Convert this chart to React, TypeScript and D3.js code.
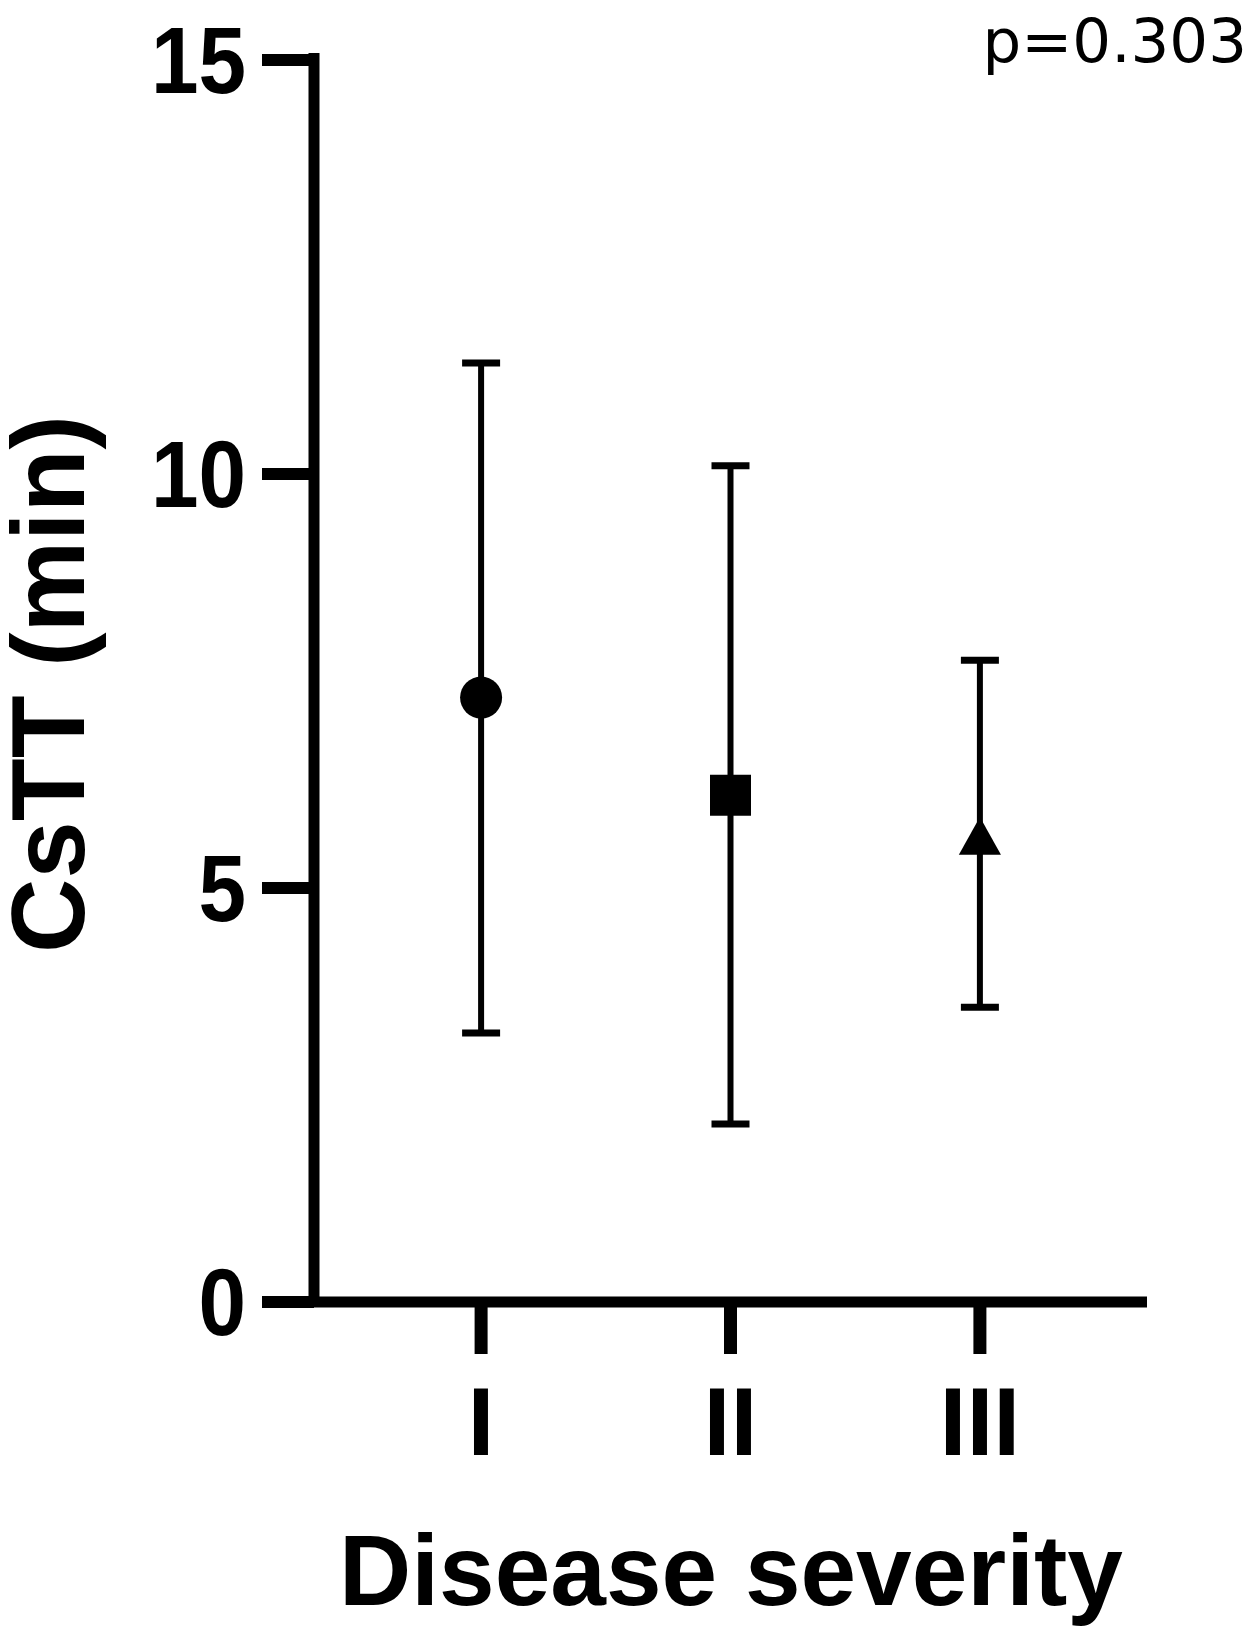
import React from 'react';
import * as d3 from 'd3';

const categories = ['I', 'II', 'III'];
const means = [7.3, 6.12, 5.63];
const upper = [11.34, 10.1, 7.75];
const lower = [3.25, 2.15, 3.56];
const yTicks = [0, 5, 10, 15];
const pLabel = 'p=0.303';

// triangle centred on its box, as the plotting program draws it
const boxTriangle = {
    draw(ctx: any, size: number) {
        const w = Math.sqrt(size * 2 / 0.9);
        const h = w * 0.9;
        ctx.moveTo(0, -h / 2);
        ctx.lineTo(w / 2, h / 2);
        ctx.lineTo(-w / 2, h / 2);
        ctx.closePath();
    }
};

const symbols = [
    d3.symbol().type(d3.symbolCircle).size(Math.PI * 21 * 21),
    d3.symbol().type(d3.symbolSquare).size(41 * 41),
    d3.symbol().type(boxTriangle as any).size(42 * 38 / 2),
];

export default function App() {
    const width = 1250, height = 1633;
    const x0 = 314, x1 = 1147, yTop = 60, yBottom = 1302;

    const x = d3.scalePoint<string>().domain(categories).range([x0, x1]).padding(0.67);
    const y = d3.scaleLinear().domain([0, 15]).range([yBottom, yTop]);

    const font = '"Liberation Sans", Arial, sans-serif';

    return (
        <svg width={width} height={height} style={{ position: 'absolute', left: 0, top: 0, background: '#fff' }}>
            {/* y axis */}
            <line x1={x0} x2={x0} y1={y(15) - 7} y2={yBottom} stroke="#000" strokeWidth={11} />
            {yTicks.map(t => (
                <g key={t}>
                    <line x1={262} x2={x0} y1={y(t)} y2={y(t)} stroke="#000" strokeWidth={12} />
                    <text transform={`translate(246,${y(t)}) scale(0.9,1)`} dy="0.35em" textAnchor="end" fontFamily={font} fontWeight="bold" fontSize={95}>{t}</text>
                </g>
            ))}
            {/* x axis */}
            <line x1={262} x2={x1} y1={yBottom} y2={yBottom} stroke="#000" strokeWidth={11} />
            {categories.map(c => (
                <g key={c}>
                    <line x1={x(c)} x2={x(c)} y1={yBottom} y2={1354} stroke="#000" strokeWidth={13} />
                    <text x={x(c)} y={1455} textAnchor="middle" fontFamily={font} fontWeight="bold" fontSize={97}>{c}</text>
                </g>
            ))}

            {/* error bars and means */}
            {categories.map((c, i) => {
                const cx = x(c) as number;
                return (
                    <g key={'e' + c}>
                        <line x1={cx} x2={cx} y1={y(upper[i])} y2={y(lower[i])} stroke="#000" strokeWidth={6} />
                        <line x1={cx - 19} x2={cx + 19} y1={y(upper[i])} y2={y(upper[i])} stroke="#000" strokeWidth={7} />
                        <line x1={cx - 19} x2={cx + 19} y1={y(lower[i])} y2={y(lower[i])} stroke="#000" strokeWidth={7} />
                        <path d={symbols[i]() as string} transform={`translate(${cx},${y(means[i])})`} fill="#000" />
                    </g>
                );
            })}

            {/* titles */}
            <text transform={`translate(84,684) rotate(-90)`} textAnchor="middle" fontFamily={font} fontWeight="bold" fontSize={103}>CsTT (min)</text>
            <text x={731} y={1605} textAnchor="middle" fontFamily={font} fontWeight="bold" fontSize={100}>Disease severity</text>
            <text x={1247} y={62} textAnchor="end" fontFamily='"DejaVu Sans", sans-serif' fontSize={61}>{pLabel}</text>
        </svg>
    );
}
